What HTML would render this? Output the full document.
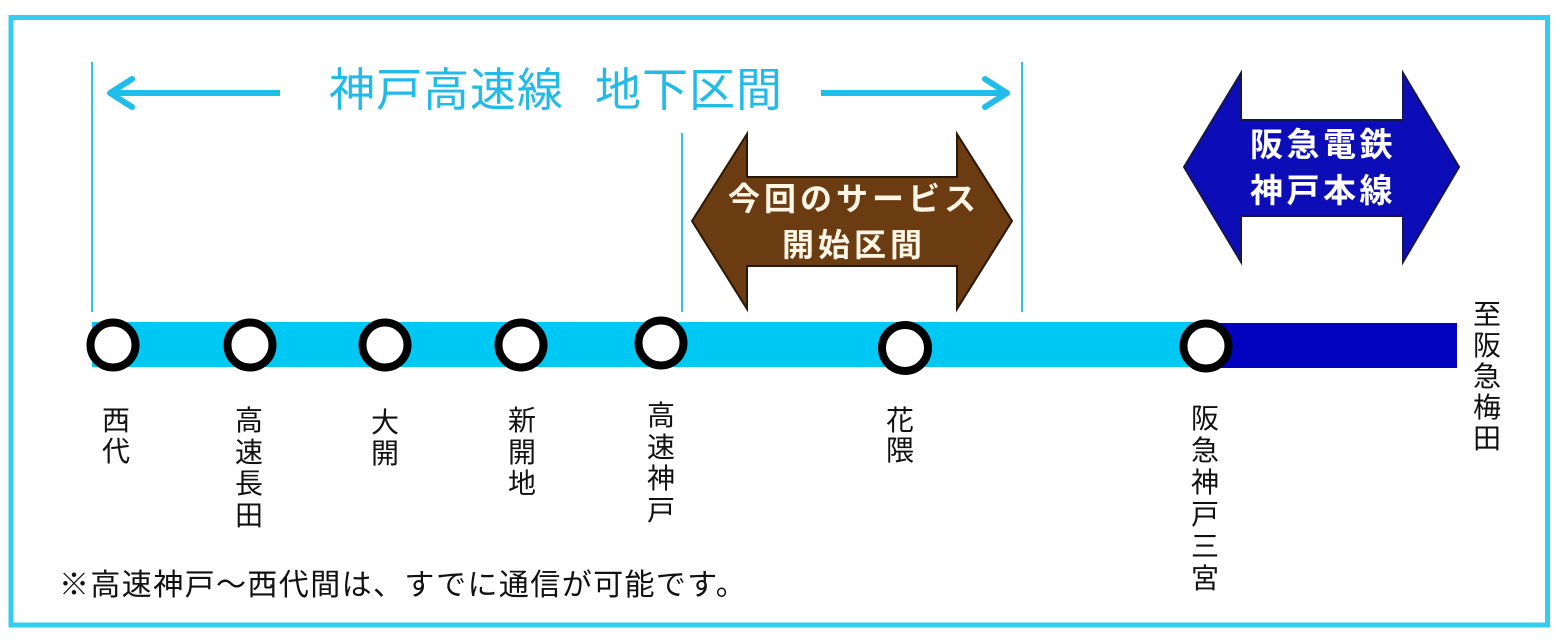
<!DOCTYPE html>
<html><head><meta charset="utf-8">
<style>
html,body{margin:0;padding:0;background:#fff;}
body{width:1561px;height:641px;position:relative;overflow:hidden;font-family:"Liberation Sans","Noto Sans CJK JP",sans-serif;}
.t{position:absolute;white-space:nowrap;}
.st{position:absolute;width:40px;font-size:28px;line-height:31px;text-align:center;color:#111;}
</style></head><body>
<svg width="1561" height="641" style="position:absolute;left:0;top:0">
  <rect x="11" y="17.5" width="1536.5" height="607.5" fill="none" stroke="#34ccef" stroke-width="5"/>
  <!-- cyan guide lines -->
  <line x1="92" y1="62" x2="92" y2="312" stroke="#2cc3ec" stroke-width="2"/>
  <line x1="682" y1="133" x2="682" y2="312" stroke="#2cc3ec" stroke-width="2"/>
  <line x1="1022" y1="62" x2="1022" y2="312" stroke="#2cc3ec" stroke-width="2"/>
  <!-- top arrows -->
  <line x1="110" y1="93" x2="280" y2="93" stroke="#1fbde9" stroke-width="6"/>
  <polyline points="132,79 110,93 132,107" fill="none" stroke="#1fbde9" stroke-width="6" stroke-linecap="round" stroke-linejoin="round"/>
  <line x1="821" y1="93" x2="1007" y2="93" stroke="#1fbde9" stroke-width="6"/>
  <polyline points="985,79 1007,93 985,107" fill="none" stroke="#1fbde9" stroke-width="6" stroke-linecap="round" stroke-linejoin="round"/>
  <!-- brown arrow -->
  <polygon points="692,221 747,134 747,177 957,177 957,134 1012,221 957,309 957,266 747,266 747,309" fill="#6b3b12" stroke="#2a1806" stroke-width="2" stroke-linejoin="miter"/>
  <!-- blue arrow -->
  <polygon points="1184,167 1241,73 1241,120 1403,120 1403,73 1459,167 1403,262 1403,216 1241,216 1241,262" fill="#0d0db8" stroke="#16164e" stroke-width="2"/>
  <!-- line bars -->
  <rect x="92" y="322" width="1116" height="45" fill="#00c8f5"/>
  <rect x="1207" y="323" width="250" height="45" fill="#0303bf"/>
  <!-- stations -->
  <g fill="#fff" stroke="#000" stroke-width="8">
    <circle cx="113" cy="345" r="22.5"/>
    <circle cx="250" cy="345" r="22.5"/>
    <circle cx="385" cy="345" r="22.5"/>
    <circle cx="521" cy="345" r="22.5"/>
    <circle cx="661" cy="343" r="22.5"/>
    <circle cx="905" cy="348" r="23"/>
    <circle cx="1206" cy="346" r="22.5"/>
  </g>
</svg>

<div class="t" style="left:329px;top:67px;font-size:46px;line-height:46px;letter-spacing:1px;color:#22bbe8;">神戸高速線</div>
<div class="t" style="left:595px;top:67px;font-size:46px;line-height:46px;letter-spacing:1px;color:#22bbe8;">地下区間</div>

<div class="t" style="left:692px;top:176px;width:320px;padding-left:4px;box-sizing:border-box;text-align:center;font-size:32px;line-height:46px;letter-spacing:4px;font-weight:bold;color:#fff6e6;">今回のサービス<br>開始区間</div>

<div class="t" style="left:1184px;top:122px;width:275px;padding-left:3px;box-sizing:border-box;text-align:center;font-size:33px;line-height:46px;letter-spacing:3.5px;font-weight:bold;color:#ffffff;">阪急電鉄<br>神戸本線</div>

<div class="st" style="left:96px;top:405px;line-height:31px;">西<br>代</div>
<div class="st" style="left:229px;top:405px;line-height:31.5px;">高<br>速<br>長<br>田</div>
<div class="st" style="left:365px;top:407px;">大<br>開</div>
<div class="st" style="left:502px;top:405px;line-height:31.5px;">新<br>開<br>地</div>
<div class="st" style="left:641px;top:400px;line-height:31.5px;">高<br>速<br>神<br>戸</div>
<div class="st" style="left:880px;top:406px;line-height:30px;">花<br>隈</div>
<div class="st" style="left:1185px;top:403px;line-height:32px;">阪<br>急<br>神<br>戸<br>三<br>宮</div>
<div class="st" style="left:1467px;top:299px;line-height:31px;">至<br>阪<br>急<br>梅<br>田</div>

<div class="t" style="left:59px;top:571px;font-size:30px;line-height:30px;letter-spacing:1.4px;color:#111;">※高速神戸～西代間は、すでに通信が可能です。</div>
</body></html>
